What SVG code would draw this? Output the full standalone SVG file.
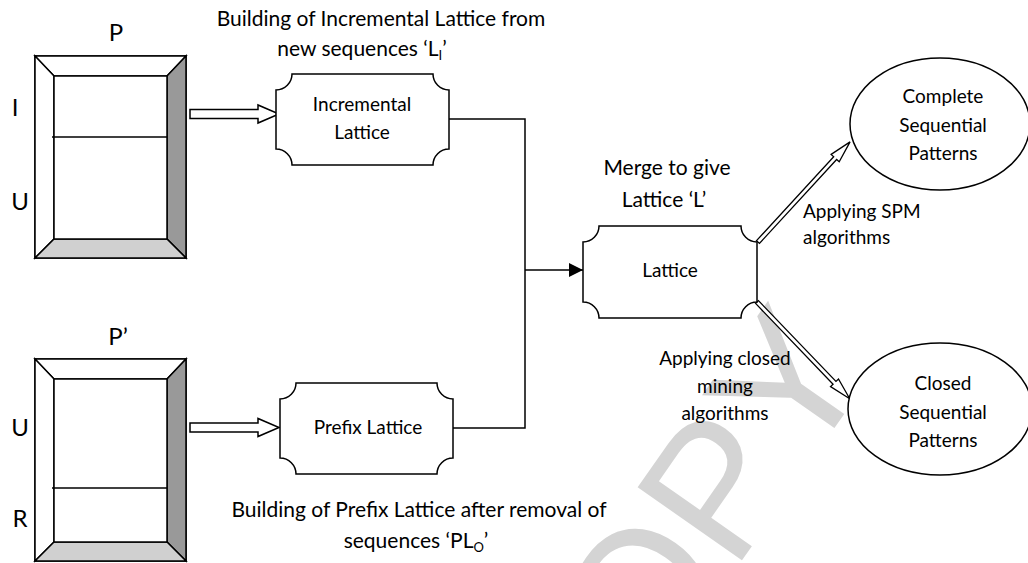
<svg xmlns="http://www.w3.org/2000/svg" width="1028" height="563" viewBox="0 0 1028 563">
  <style>
    .t{font-family:Lato,"Liberation Sans",sans-serif;fill:#000}
    .cap{font-size:21px}
    .nd{font-size:19px}
    .big{font-size:24px}
    .sub{font-size:13px}
    .ln{fill:none;stroke:#000;stroke-width:1.5}
    .sh{fill:#fff;stroke:#000;stroke-width:1.5;stroke-linejoin:miter}
    .wm{font-family:"Liberation Sans",Arial,sans-serif;font-size:185px;fill:#d4d4d4}
  </style>
  <defs>
    <!-- bevelled database frame -->
    <g id="frame">
      <rect x="35" y="56" width="151" height="202" class="sh"/>
      <polygon points="35,56 186,56 167,76 54,76" class="sh"/>
      <polygon points="35,56 54,76 54,239 35,258" class="sh"/>
      <polygon points="186,56 186,258 167,239 167,76" class="sh" style="fill:#999"/>
      <polygon points="35,258 186,258 167,239 54,239" class="sh" style="fill:#d0d0d0"/>
      <rect x="54" y="76" width="113" height="163" class="sh"/>
    </g>
    <marker id="tri" markerWidth="14" markerHeight="14" refX="14" refY="7" orient="auto" markerUnits="userSpaceOnUse">
      <path d="M0,0 L14,7 L0,14 Z" fill="#000"/>
    </marker>
  </defs>
  <rect width="1028" height="563" fill="#fff"/>

  <!-- watermark -->
  <text class="wm" transform="translate(574,800) rotate(-55)">COPY</text>

  <!-- connectors -->
  <g id="connectors">
    <polygon class="sh" points="190,109.5 258,109.5 258,105 279,114 258,123 258,118.5 190,118.5"/>
    <polygon class="sh" points="190,423 258,423 258,418.5 279,427.5 258,436.5 258,432 190,432"/>
    <polyline class="ln" points="449,119 525,119 525,428 453,428"/>
    <line class="ln" x1="525" y1="270" x2="583" y2="270" marker-end="url(#tri)"/>
    <polygon class="sh" style="stroke-width:1.3" transform="translate(758,242) rotate(-47.4)" points="0,-2 114,-2 114,-5.5 136,0 114,5.5 114,2 0,2"/>
    <polygon class="sh" style="stroke-width:1.3" transform="translate(757,302) rotate(46.2)" points="0,-2 112,-2 112,-5.5 134,0 112,5.5 112,2 0,2"/>
  </g>

  <!-- source database P -->
  <g id="db-p">
    <use href="#frame"/>
    <line class="ln" x1="52" y1="137" x2="167" y2="137"/>
    <text class="t big" x="116" y="41" text-anchor="middle">P</text>
    <text class="t big" x="15" y="116" text-anchor="middle">I</text>
    <text class="t big" x="20" y="210" text-anchor="middle">U</text>
  </g>

  <!-- source database P' -->
  <g id="db-p2">
    <use href="#frame" transform="translate(0,303)"/>
    <line class="ln" x1="52" y1="488" x2="167" y2="488"/>
    <text class="t big" x="118" y="345" text-anchor="middle">P’</text>
    <text class="t big" x="20" y="436" text-anchor="middle">U</text>
    <text class="t big" x="20" y="527" text-anchor="middle">R</text>
  </g>

  <!-- incremental lattice -->
  <g id="incremental-lattice">
    <path class="sh" d="M292,74 H433 A16,16 0 0 0 449,90 V149 A16,16 0 0 0 433,165 H292 A16,16 0 0 0 276,149 V90 A16,16 0 0 0 292,74 Z"/>
    <text class="t nd" x="362" y="111" text-anchor="middle">Incremental</text>
    <text class="t nd" x="362" y="139" text-anchor="middle">Lattice</text>
  </g>
  <g id="caption-top">
    <text class="t cap" x="381" y="26" text-anchor="middle">Building of Incremental Lattice from</text>
    <text class="t cap" x="362" y="56" text-anchor="middle">new sequences ‘L<tspan class="sub" dy="4">I</tspan><tspan dy="-4">’</tspan></text>
  </g>

  <!-- prefix lattice -->
  <g id="prefix-lattice">
    <path class="sh" d="M296,383 H437 A16,16 0 0 0 453,399 V458 A16,16 0 0 0 437,474 H296 A16,16 0 0 0 280,458 V399 A16,16 0 0 0 296,383 Z"/>
    <text class="t nd" x="368" y="434" text-anchor="middle">Prefix Lattice</text>
  </g>
  <g id="caption-bottom">
    <text class="t cap" x="419" y="517" text-anchor="middle">Building of Prefix Lattice after removal of</text>
    <text class="t cap" x="416" y="548" text-anchor="middle">sequences ‘PL<tspan class="sub" dy="4">O</tspan><tspan dy="-4">’</tspan></text>
  </g>

  <!-- merged lattice -->
  <g id="lattice">
    <path class="sh" d="M599,226 H741 A16,16 0 0 0 757,242 V302 A16,16 0 0 0 741,318 H599 A16,16 0 0 0 583,302 V242 A16,16 0 0 0 599,226 Z"/>
    <text class="t nd" x="670" y="277" text-anchor="middle">Lattice</text>
    <text class="t cap" x="667" y="175" text-anchor="middle">Merge to give</text>
    <text class="t cap" x="664" y="207" text-anchor="middle">Lattice ‘L’</text>
  </g>

  <!-- complete patterns -->
  <g id="complete-patterns">
    <ellipse class="sh" cx="940" cy="124" rx="90" ry="66"/>
    <text class="t nd" x="943" y="103" text-anchor="middle">Complete</text>
    <text class="t nd" x="943" y="132" text-anchor="middle">Sequential</text>
    <text class="t nd" x="943" y="160" text-anchor="middle">Patterns</text>
    <text class="t nd" x="803" y="218">Applying SPM</text>
    <text class="t nd" x="803" y="244">algorithms</text>
  </g>

  <!-- closed patterns -->
  <g id="closed-patterns">
    <ellipse class="sh" cx="940" cy="409" rx="92" ry="66"/>
    <text class="t nd" x="943" y="390" text-anchor="middle">Closed</text>
    <text class="t nd" x="943" y="419" text-anchor="middle">Sequential</text>
    <text class="t nd" x="943" y="447" text-anchor="middle">Patterns</text>
    <text class="t nd" x="725" y="365" text-anchor="middle">Applying closed</text>
    <text class="t nd" x="725" y="393" text-anchor="middle">mining</text>
    <text class="t nd" x="725" y="420" text-anchor="middle">algorithms</text>
  </g>
</svg>
